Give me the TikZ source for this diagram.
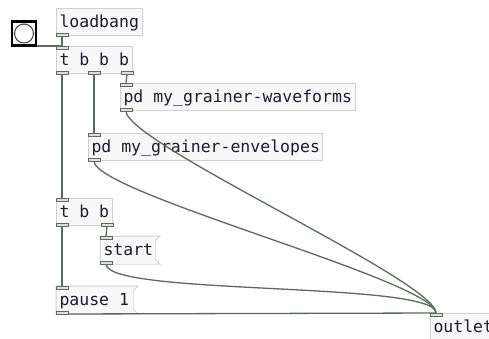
\documentclass[tikz,border=0pt]{standalone}
\usepackage{fontspec}
\newfontfamily\pdfont{DejaVu Sans Mono}
\usetikzlibrary{calc}
\definecolor{cordc}{RGB}{92,108,92}
\definecolor{boxc}{RGB}{208,208,208}
\definecolor{boxf}{RGB}{248,248,248}
\definecolor{portf}{RGB}{220,224,220}
\definecolor{txtc}{RGB}{28,28,45}
\newcommand\pdsp{\hbox to 0.602em{}}
\tikzset{
  obj/.style={draw=boxc, fill=boxf, line width=1pt, anchor=north west, inner xsep=3pt, inner ysep=0pt,
    minimum height=27pt, text width=#1, align=left, text height=12pt, text depth=1pt,
    font=\pdfont\fontsize{16.5}{16.5}\selectfont, text=txtc},
  msg/.style={obj=#1, draw=none},
  msgline/.style={draw=boxc, line width=1pt},
  port/.style={draw=cordc, fill=portf, line width=0.8pt},
  cord/.style={draw=cordc, line width=1.3pt},
}
\newcommand\inport[1]{\draw[port] (#1) rectangle ++(12,3);}
\newcommand\outport[1]{\draw[port] (#1) rectangle ++(12,-3);}
\newcommand\msgshape[1]{\draw[msgline, fill=boxf] (#1.north west) -- ($(#1.north east)+(5,0)$) -- ($(#1.north east)+(0,5)$) -- ($(#1.south east)+(0,-5)$) -- ($(#1.south east)+(5,0)$) -- (#1.south west) -- cycle;}
\begin{document}
\begin{tikzpicture}[x=1pt,y=-1pt]
\fill[white] (0,0) rectangle (489,338);
\useasboundingbox (0,0) rectangle (489,338);

% boxes
\node[obj=80pt] (lb) at (56,8) {\mbox{loadbang}};
\node[obj=70pt] (t1) at (56,46) {\mbox{t\pdsp b\pdsp b\pdsp b}};
\node[obj=229pt] (wf) at (120,83) {\mbox{pd\pdsp my\_grainer-waveforms}};
\node[obj=228pt] (en) at (88,133) {\mbox{pd\pdsp my\_grainer-envelopes}};
\node[obj=50pt] (t2) at (56,198) {\mbox{t\pdsp b\pdsp b}};
\node[msg=48pt] (st) at (100,236) {};
\msgshape{st}
\node[msg=48pt] at (100,236) {\mbox{start}};
\node[msg=70pt] (pa) at (56,286) {};
\msgshape{pa}
\node[msg=70pt] at (56,286) {\mbox{pause\pdsp 1}};
\node[obj=70pt] (ou) at (430,313) {\mbox{outlet}};

% cords
\coordinate (bo) at (17,46);
\draw[cord] (bo) -- ($(t1.north west)+(6,0)$);
\draw[cord] ($(lb.south west)+(6,0)$) -- ($(t1.north west)+(6,0)$);
\draw[cord] ($(t1.south west)+(6,0)$) -- ($(t2.north west)+(6,0)$);
\draw[cord] ($(t1.south west)+(38,0)$) -- ($(en.north west)+(6,0)$);
\draw[cord] ($(t1.south east)+(-6,0)$) -- ($(wf.north west)+(6,0)$);
\draw[cord] ($(t2.south west)+(6,0)$) -- ($(pa.north west)+(6,0)$);
\draw[cord] ($(t2.south east)+(-6,0)$) -- ($(st.north west)+(6,0)$);
\draw[cord] ($(pa.south west)+(6,0)$) -- ($(ou.north west)+(6,0)$);
\draw[cord] ($(wf.south west)+(6,0)$) .. controls ($(wf.south west)+(6,32)$) and ($(ou.north west)+(6,-32)$) .. ($(ou.north west)+(6,0)$);
\draw[cord] ($(en.south west)+(6,0)$) .. controls ($(en.south west)+(6,32)$) and ($(ou.north west)+(6,-32)$) .. ($(ou.north west)+(6,0)$);
\draw[cord] ($(st.south west)+(6,0)$) .. controls ($(st.south west)+(6,32)$) and ($(ou.north west)+(6,-32)$) .. ($(ou.north west)+(6,0)$);

% ports
\outport{lb.south west}
\inport{t1.north west}
\outport{t1.south west}
\outport{$(t1.south west)+(32,0)$}
\outport{$(t1.south east)+(-12,0)$}
\inport{wf.north west}
\outport{wf.south west}
\inport{en.north west}
\outport{en.south west}
\inport{t2.north west}
\outport{t2.south west}
\outport{$(t2.south east)+(-12,0)$}
\inport{st.north west}
\outport{st.south west}
\inport{pa.north west}
\outport{pa.south west}
\inport{ou.north west}

% bang
\node[draw=black, line width=2.5pt, fill=boxf, minimum size=24pt, inner sep=0pt] (bang) at (24,33.5) {};
\node[draw=black!75, line width=1pt, fill=white, circle, minimum size=19pt, inner sep=0pt] (bangc) at (bang.center) {};
\end{tikzpicture}
\end{document}
